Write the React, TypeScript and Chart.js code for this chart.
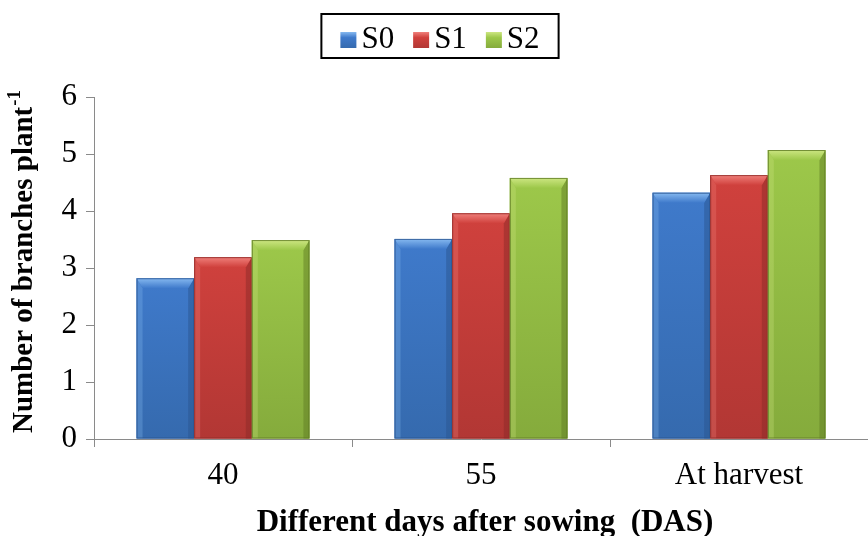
import React, { useEffect, useRef } from "react";
import { Chart, registerables } from "chart.js";

Chart.register(...registerables);

const categories = ["40", "55", "At harvest"];
const seriesNames = ["S0", "S1", "S2"];
const s0Values = [2.82, 3.51, 4.32];
const s1Values = [3.19, 3.96, 4.63];
const s2Values = [3.49, 4.58, 5.07];
const yTicks = [0, 1, 2, 3, 4, 5, 6];

const baseColors = ["#3f7acb", "#d0413d", "#9dc84a"];
const lightColors = ["#86b9f0", "#f0807b", "#cde682"];
const darkColors = ["#356aae", "#b23734", "#85ab3c"];
const edgeColors = ["#2a5590", "#8c2a28", "#5f7b24"];

const FONT = "'Liberation Serif', 'Times New Roman', serif";

const bevelPlugin = {
  id: "bevel",
  afterDatasetsDraw(chart: any) {
    const ctx = chart.ctx;
    chart.data.datasets.forEach((ds: any, di: number) => {
      const meta = chart.getDatasetMeta(di);
      meta.data.forEach((el: any) => {
        const { x, y, base, width } = el.getProps(["x", "y", "base", "width"], true);
        const l = x - width / 2;
        const r = x + width / 2;
        const t = Math.min(y, base);
        const b = Math.max(y, base);
        const bv = 10;
        ctx.save();
        const g = ctx.createLinearGradient(0, t, 0, b);
        g.addColorStop(0, baseColors[di]);
        g.addColorStop(1, darkColors[di]);
        ctx.fillStyle = g;
        ctx.fillRect(l, t, width, b - t);
        // left bevel
        ctx.globalAlpha = 0.3;
        ctx.fillStyle = lightColors[di];
        ctx.beginPath();
        ctx.moveTo(l, t);
        ctx.lineTo(l + bv * 0.6, t + bv);
        ctx.lineTo(l + bv * 0.6, b);
        ctx.lineTo(l, b);
        ctx.closePath();
        ctx.fill();
        // right bevel
        ctx.globalAlpha = 0.5;
        ctx.fillStyle = edgeColors[di];
        ctx.beginPath();
        ctx.moveTo(r, t);
        ctx.lineTo(r - bv * 0.6, t + bv);
        ctx.lineTo(r - bv * 0.6, b);
        ctx.lineTo(r, b);
        ctx.closePath();
        ctx.fill();
        // top bevel
        ctx.globalAlpha = 1;
        const tg = ctx.createLinearGradient(0, t, 0, t + bv);
        tg.addColorStop(0, lightColors[di]);
        tg.addColorStop(1, baseColors[di]);
        ctx.fillStyle = tg;
        ctx.beginPath();
        ctx.moveTo(l, t);
        ctx.lineTo(r, t);
        ctx.lineTo(r - bv * 0.6, t + bv);
        ctx.lineTo(l + bv * 0.6, t + bv);
        ctx.closePath();
        ctx.fill();
        ctx.strokeStyle = edgeColors[di];
        ctx.globalAlpha = 0.8;
        ctx.lineWidth = 1;
        ctx.strokeRect(l + 0.5, t + 0.5, width - 1, b - t - 1);
        ctx.restore();
      });
    });
  },
};

const decorPlugin = {
  id: "decor",
  afterDraw(chart: any) {
    const ctx = chart.ctx;
    const area = chart.chartArea;
    ctx.save();
    // legend
    ctx.font = `31px ${FONT}`;
    ctx.textBaseline = "alphabetic";
    const box = 16;
    const gapBoxText = 5;
    const gapItems = 19;
    const widths = seriesNames.map((n) => box + gapBoxText + ctx.measureText(n).width);
    const total = widths.reduce((a, b) => a + b, 0) + gapItems * (seriesNames.length - 1);
    const cx = 440;
    const padX = 19;
    const lTop = 14;
    const lBottom = 58;
    let xPos = cx - total / 2;
    ctx.strokeStyle = "#000";
    ctx.lineWidth = 2;
    ctx.strokeRect(xPos - padX, lTop, total + padX * 2, lBottom - lTop);
    const baseline = 48;
    seriesNames.forEach((n, i) => {
      const top = 32;
      const g = ctx.createLinearGradient(0, top, 0, top + box);
      g.addColorStop(0, lightColors[i]);
      g.addColorStop(0.35, baseColors[i]);
      g.addColorStop(1, darkColors[i]);
      ctx.fillStyle = g;
      ctx.fillRect(xPos, top, box, box);
      ctx.fillStyle = "#000";
      ctx.textAlign = "left";
      ctx.fillText(n, xPos + box + gapBoxText, baseline);
      xPos += widths[i] + gapItems;
    });

    // y title with superscript
    ctx.save();
    ctx.translate(22, 262);
    ctx.rotate(-Math.PI / 2);
    const main = "Number of branches plant";
    const sup = "-1";
    ctx.font = `bold 29px ${FONT}`;
    const mw = ctx.measureText(main).width;
    ctx.font = `bold 19px ${FONT}`;
    const sw = ctx.measureText(sup).width;
    const tw = mw + sw;
    ctx.fillStyle = "#000";
    ctx.textAlign = "left";
    ctx.textBaseline = "alphabetic";
    ctx.font = `bold 29px ${FONT}`;
    ctx.fillText(main, -tw / 2, 10);
    ctx.font = `bold 19px ${FONT}`;
    ctx.fillText(sup, -tw / 2 + mw + 1, -2);
    ctx.restore();

    // x title
    ctx.font = `bold 31px ${FONT}`;
    ctx.fillStyle = "#000";
    ctx.textAlign = "center";
    ctx.textBaseline = "alphabetic";
    ctx.fillText("Different days after sowing  (DAS)", (area.left + area.right) / 2 + 4, 531);
    ctx.restore();
  },
};

export default function App() {
  const ref = useRef<HTMLCanvasElement | null>(null);
  useEffect(() => {
    document.body.style.margin = "0";
    const canvas = ref.current!;
    const chart = new Chart(canvas, {
      type: "bar",
      data: {
        labels: categories,
        datasets: [
          { label: seriesNames[0], data: s0Values, backgroundColor: baseColors[0] },
          { label: seriesNames[1], data: s1Values, backgroundColor: baseColors[1] },
          { label: seriesNames[2], data: s2Values, backgroundColor: baseColors[2] },
        ],
      },
      options: {
        responsive: false,
        animation: false,
        devicePixelRatio: 1,
        layout: { padding: { top: 97, left: 0, right: 0, bottom: 0 } },
        datasets: { bar: { categoryPercentage: 0.67, barPercentage: 1.0 } },
        plugins: { legend: { display: false }, tooltip: { enabled: false } },
        scales: {
          x: {
            afterFit: (s: any) => { s.height = 97; },
            grid: { display: true, drawOnChartArea: false, drawTicks: true, tickLength: 8, color: "#8a8a8a", offset: true },
            border: { display: true, color: "#8a8a8a", width: 1 },
            ticks: { color: "#000", font: { family: FONT, size: 31 }, padding: 10 },
          },
          y: {
            min: 0,
            max: 6,
            afterFit: (s: any) => { s.width = 94; },
            afterBuildTicks: (s: any) => { s.ticks = yTicks.map((v) => ({ value: v })); },
            grid: { display: true, drawOnChartArea: false, drawTicks: true, tickLength: 8, color: "#8a8a8a" },
            border: { display: true, color: "#8a8a8a", width: 1 },
            ticks: { color: "#000", font: { family: FONT, size: 31 }, padding: 9 },
          },
        },
      },
      plugins: [bevelPlugin, decorPlugin],
    });
    return () => chart.destroy();
  }, []);
  return <canvas ref={ref} width={868} height={536} style={{ display: "block" }} />;
}
